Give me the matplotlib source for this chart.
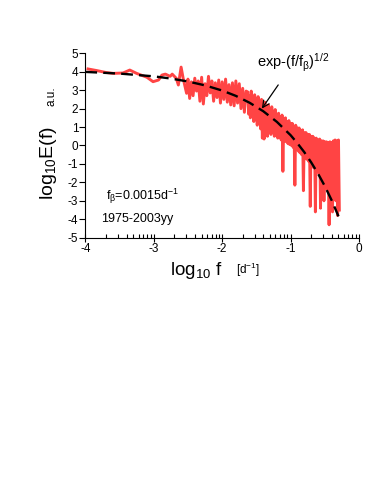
import numpy as np
import matplotlib
matplotlib.use("Agg")
import matplotlib.pyplot as plt
from matplotlib.ticker import FixedLocator

plt.rcParams['font.family'] = ['Liberation Sans', 'DejaVu Sans']
plt.rcParams['mathtext.fontset'] = 'custom'
plt.rcParams['mathtext.rm'] = 'Liberation Sans'
plt.rcParams['mathtext.it'] = 'Liberation Sans'

# ---- data ----
# low-frequency part of the spectrum (log10 f, log10 E)
x_low = [-3.96, -3.83, -3.70, -3.59, -3.45, -3.35, -3.25, -3.10, -3.01, -2.93,
         -2.88, -2.83, -2.76, -2.73, -2.67, -2.64, -2.60, -2.57, -2.52]
y_low = [4.15, 4.06, 3.96, 3.91, 3.93, 4.09, 3.91, 3.70, 3.46, 3.55,
         3.82, 3.87, 3.75, 3.87, 3.64, 3.28, 4.25, 3.64, 2.83]

# middle part of the spectrum
x_mid = [-2.500, -2.475, -2.450, -2.425, -2.400, -2.375, -2.350, -2.325, -2.300,
         -2.275, -2.250, -2.225, -2.200, -2.175, -2.150, -2.125, -2.100, -2.075,
         -2.050, -2.025, -2.000, -1.975, -1.950, -1.925, -1.900, -1.875, -1.850,
         -1.825, -1.800, -1.775, -1.750, -1.725, -1.700, -1.675, -1.650]
y_mid = [3.60, 2.55, 3.45, 2.70, 3.65, 2.95, 3.50, 2.40, 3.70,
         2.25, 3.35, 2.70, 3.75, 2.85, 3.50, 2.40, 3.40, 2.60,
         3.55, 2.30, 3.45, 2.50, 3.60, 2.35, 3.30, 2.20, 3.40,
         2.15, 3.50, 2.30, 3.35, 2.00, 3.10, 1.80, 2.95]

# high-frequency part: upper / lower values of the dense oscillation
x_high = [-1.625, -1.600, -1.575, -1.550, -1.525, -1.500, -1.475, -1.450, -1.425,
          -1.400, -1.375, -1.350, -1.325, -1.300, -1.275, -1.250, -1.225, -1.200,
          -1.175, -1.150, -1.125, -1.100, -1.075, -1.050, -1.025, -1.000, -0.975,
          -0.950, -0.925, -0.900, -0.875, -0.850, -0.825, -0.800, -0.775, -0.750,
          -0.725, -0.700, -0.675, -0.650, -0.625, -0.600, -0.575, -0.550, -0.525,
          -0.500, -0.475, -0.450, -0.425, -0.400, -0.375, -0.350, -0.325, -0.300]
y_high_top = [2.90, 2.70, 2.95, 2.60, 2.75, 2.55, 2.65, 2.40, 2.50,
              2.25, 2.35, 2.10, 2.20, 2.00, 2.10, 1.85, 1.95, 1.70,
              1.75, 1.55, 1.65, 1.45, 1.50, 1.30, 1.35, 1.20, 1.20,
              1.05, 1.10, 0.95, 0.95, 0.80, 0.85, 0.70, 0.70, 0.60,
              0.60, 0.50, 0.50, 0.40, 0.40, 0.30, 0.35, 0.25, 0.25,
              0.20, 0.20, 0.15, 0.20, 0.15, 0.25, 0.30, 0.25, 0.30]
y_high_bot = [1.70, 1.50, 1.65, 1.30, 1.45, 1.10, 1.20, 0.90, 0.40,
              0.35, 0.70, 0.50, 0.75, 0.60, 0.70, 0.50, 0.55, 0.40,
              0.45, 0.30, -1.40, 0.25, 0.20, 0.10, 0.05, 0.00, -0.10,
              -2.15, -0.20, -0.30, -0.40, -0.50, -2.45, -0.60, -0.75, -0.85,
              -3.30, -1.00, -1.20, -3.60, -1.40, -1.50, -3.40, -1.80, -3.00,
              -2.20, -2.40, -4.30, -2.60, -3.60, -2.80, -3.00, -3.80, -3.50]

# fitted curve exp-(f/f_beta)^(1/2), f_beta = 0.0015 1/d
x_fit = [-4.0, -3.5, -3.0, -2.75, -2.5, -2.25, -2.0, -1.8, -1.6, -1.4, -1.2,
         -1.0, -0.9, -0.8, -0.7, -0.6, -0.5, -0.4, -0.3]
y_fit = [3.99, 3.90, 3.75, 3.63, 3.47, 3.26, 2.98, 2.69, 2.32, 1.86, 1.28,
         0.56, 0.12, -0.36, -0.91, -1.52, -2.20, -2.97, -3.84]

x_ticks = [-4, -3, -2, -1, 0]
y_ticks = [-5, -4, -3, -2, -1, 0, 1, 2, 3, 4, 5]

# ---- build the spectrum line ----
half = 0.0125
xs = list(x_low) + list(x_mid)
ys = list(y_low) + list(y_mid)
for xv, t, b in zip(x_high, y_high_top, y_high_bot):
    xs += [xv, xv + half]
    ys += [t, b]

fig = plt.figure(figsize=(3.81, 4.97), dpi=100)
ax = fig.add_axes([0.2239, 0.5217, 0.7184, 0.3711])

ax.plot(xs, ys, color='#ff4444', lw=2.1, solid_joinstyle='round', zorder=2)
ax.plot(x_fit, y_fit, color='black', lw=1.7, dashes=(5, 2.6), zorder=3)

ax.set_xlim(-4, 0)
ax.set_ylim(-5, 5)
for s in ['top', 'right']:
    ax.spines[s].set_visible(False)
for s in ['left', 'bottom']:
    ax.spines[s].set_linewidth(0.8)

ax.set_xticks(x_ticks)
ax.set_xticklabels([str(v) for v in x_ticks])
ax.set_yticks(y_ticks)
ax.set_yticklabels([str(v) for v in y_ticks])
minor = [d + np.log10(k) for d in range(-4, 0) for k in range(2, 10)]
ax.xaxis.set_minor_locator(FixedLocator(minor))
ax.tick_params(axis='x', which='major', direction='inout', length=6, width=0.8,
               labelsize=8.5, pad=1)
ax.tick_params(axis='x', which='minor', direction='in', length=3, width=0.8)
ax.tick_params(axis='y', which='major', direction='out', length=4, width=0.8,
               labelsize=8.5, pad=1)

# axis labels
fig.text(0.126, 0.673, r'log$_{10}$E(f)', rotation=90, fontsize=14,
         ha='center', va='center')
ax.text(-4.49, 2.65, 'a.u.', rotation=90, fontsize=8.5, ha='center', va='center')
ax.text(-2.38, -6.8, r'log$_{10}$ f', fontsize=13.5, ha='center', va='center')
ax.text(-1.62, -6.75, r'[d$^{-1}$]', fontsize=8.5, ha='center', va='center')

# annotations
ax.annotate(r'exp-(f/f$_\beta$)$^{1/2}$', xy=(-1.42, 2.0), xytext=(-0.96, 4.47),
            fontsize=10.5, ha='center', va='center',
            arrowprops=dict(arrowstyle='->', color='black', lw=0.9,
                            shrinkA=7, shrinkB=0, mutation_scale=12))
ax.text(-3.7, -2.75, r'f$_\beta$=0.0015d$^{-1}$', fontsize=9, ha='left', va='center')
ax.text(-3.77, -4.0, '1975-2003yy', fontsize=9, ha='left', va='center')

fig.savefig('out.png', dpi=100)
